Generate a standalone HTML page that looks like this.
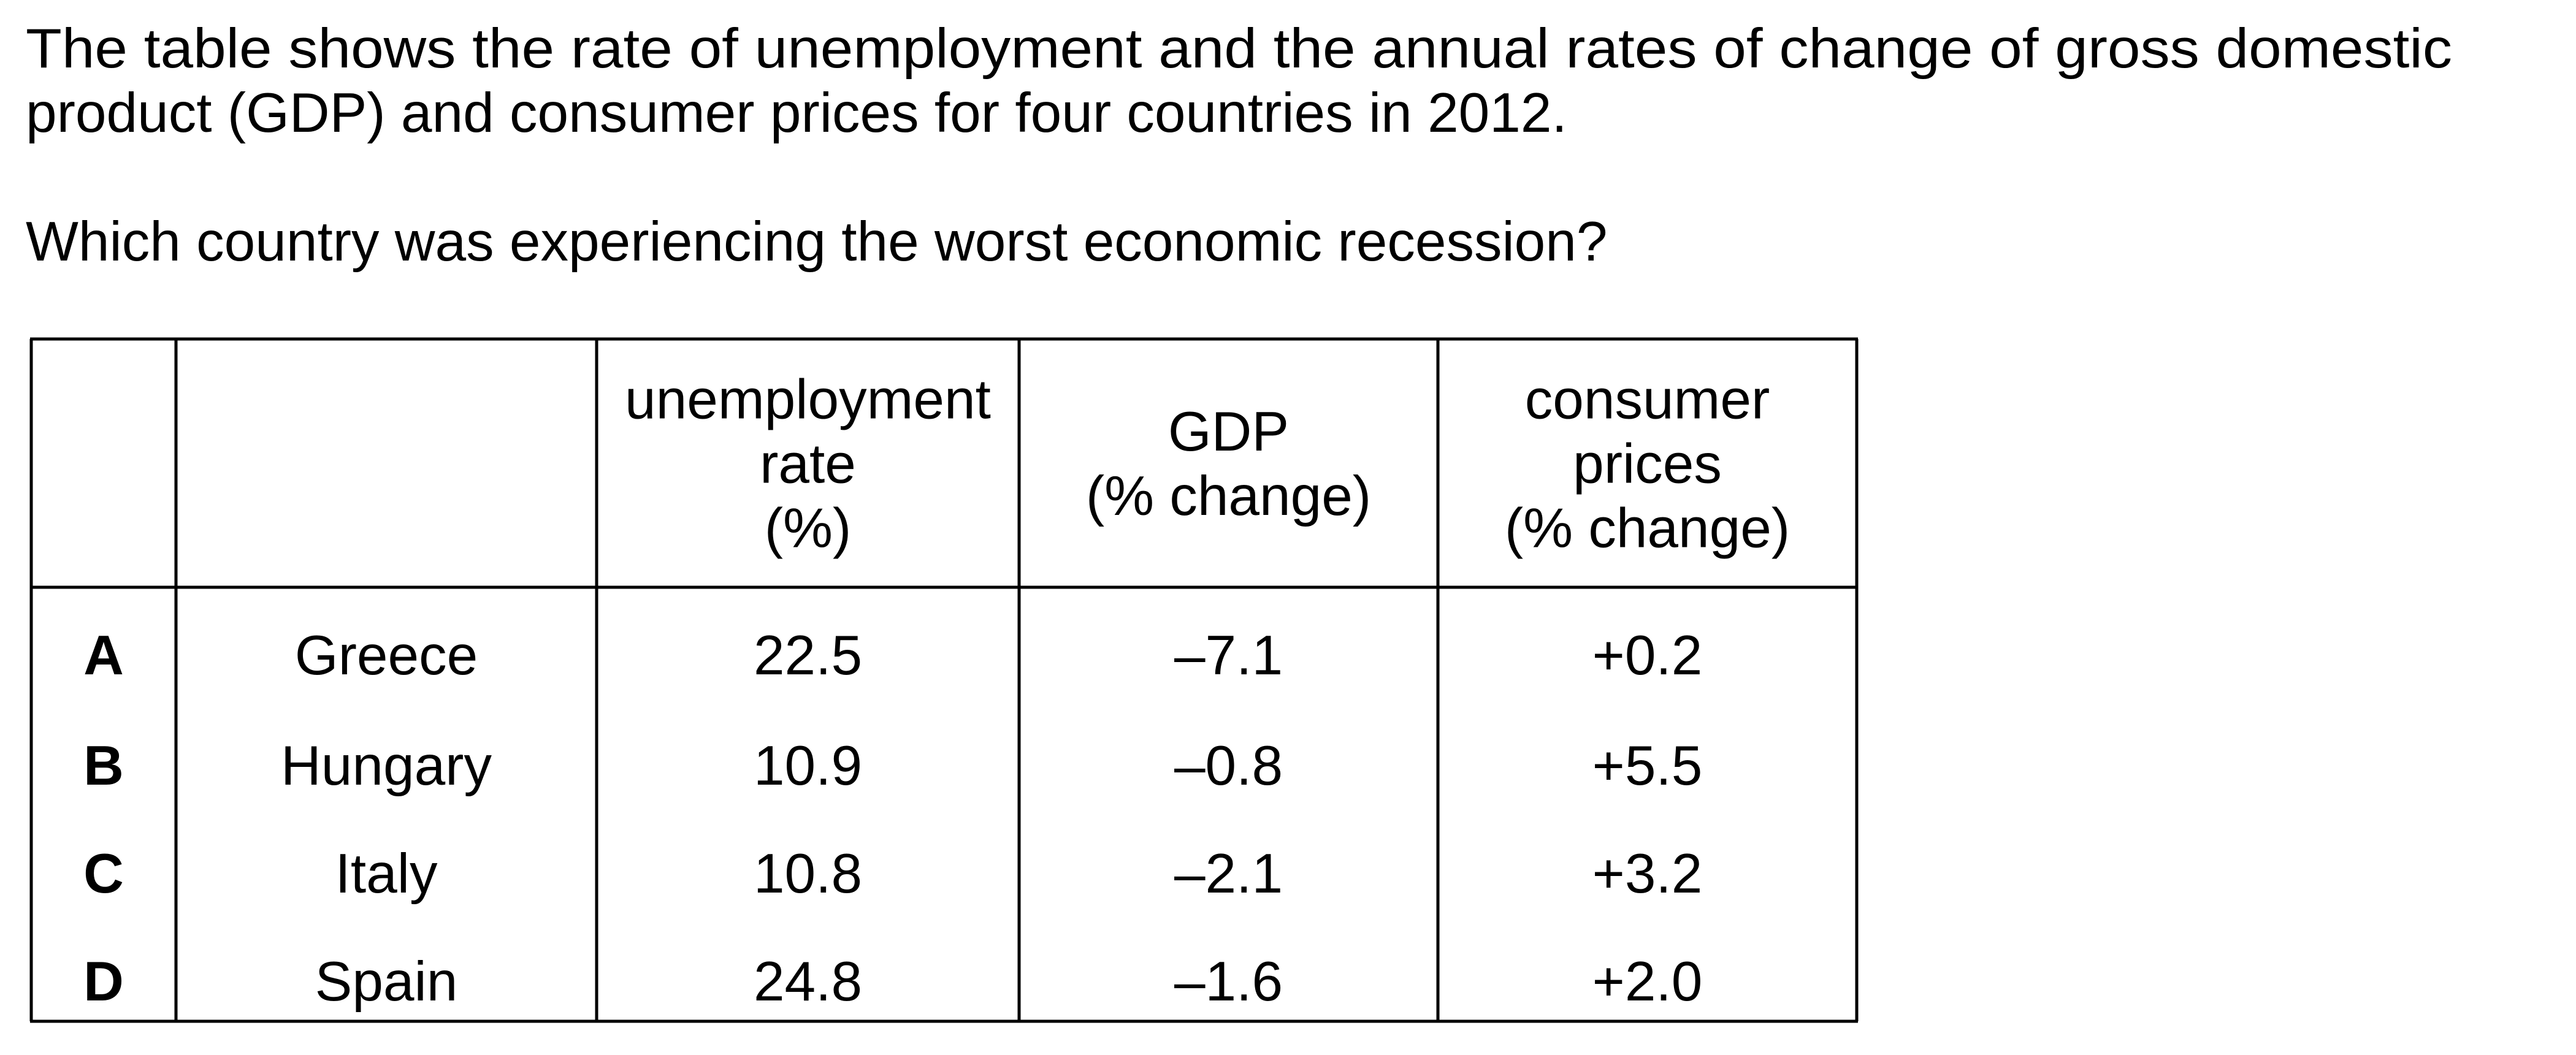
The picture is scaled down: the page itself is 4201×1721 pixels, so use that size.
<!DOCTYPE html>
<html><head><meta charset="utf-8"><style>
html,body{margin:0;padding:0;background:#fff;}
svg{display:block;}
text{font-family:"Liberation Sans",Arial,sans-serif;fill:#000;}
</style></head><body>
<svg id="root" width="4201" height="1721" viewBox="0 0 4201 1721">
<g font-size="91">
<text x="42" y="110" textLength="3957" lengthAdjust="spacingAndGlyphs">The table shows the rate of unemployment and the annual rates of change of gross domestic</text>
<text x="42" y="215">product (GDP) and consumer prices for four countries in 2012.</text>
<text x="42" y="425">Which country was experiencing the worst economic recession?</text>
</g>
<g id="tbl"></g>
</svg>
<script>
const optionLetters = ['A','B','C','D'];
const countries = ['Greece','Hungary','Italy','Spain'];
const unemployment = ['22.5','10.9','10.8','24.8'];
const gdpChange = ['\u20137.1','\u20130.8','\u20132.1','\u20131.6'];
const consumerPrices = ['+0.2','+5.5','+3.2','+2.0'];
const headers = [[], [], ['unemployment','rate','(%)'], ['GDP','(% change)'], ['consumer','prices','(% change)']];

const NS='http://www.w3.org/2000/svg';
const tblG=document.getElementById('tbl');
const colX=[51,287,973,1662,2345,3028];
const tableTop=553, headBottom=958, tableBottom=1666;
function line(x1,y1,x2,y2,name){
  const l=document.createElementNS(NS,'line');
  l.setAttribute('x1',x1);l.setAttribute('y1',y1);l.setAttribute('x2',x2);l.setAttribute('y2',y2);
  l.setAttribute('stroke','#000');l.setAttribute('stroke-width','5');
  
  
  tblG.appendChild(l);
}
[tableTop,headBottom,tableBottom].forEach((y,i)=>line(colX[0]-2,y,colX[5]+2,y,'table-rule-h'+i));
colX.forEach((x,i)=>line(x,tableTop,x,tableBottom,'table-rule-v'+i));
function txt(s,x,y,bold,name){
  const t=document.createElementNS(NS,'text');
  t.setAttribute('x',x);t.setAttribute('y',y);t.setAttribute('text-anchor','middle');
  t.setAttribute('font-size','91');
  if(bold)t.setAttribute('font-weight','bold');
  t.textContent=s;
  
  
  tblG.appendChild(t);
}
const centers=colX.slice(0,5).map((x,i)=>(x+colX[i+1])/2);
const lh=105, midHead=(tableTop+headBottom)/2;
headers.forEach((lines,c)=>{
  const n=lines.length;
  lines.forEach((s,k)=>{
    const y=midHead+(k-(n-1)/2)*lh+32;
    txt(s,centers[c],y,false,'header-col'+c+'-line'+k);
  });
});
const rowBase=[1100,1280,1456,1632];
const cols=[optionLetters,countries,unemployment,gdpChange,consumerPrices];
const colNames=['option-letter','country','unemployment-value','gdp-value','prices-value'];
optionLetters.forEach((_,r)=>{
  cols.forEach((arr,c)=>txt(arr[r],centers[c],rowBase[r],c===0,colNames[c]+'-'+optionLetters[r].toLowerCase()));
});
</script>
</body></html>
